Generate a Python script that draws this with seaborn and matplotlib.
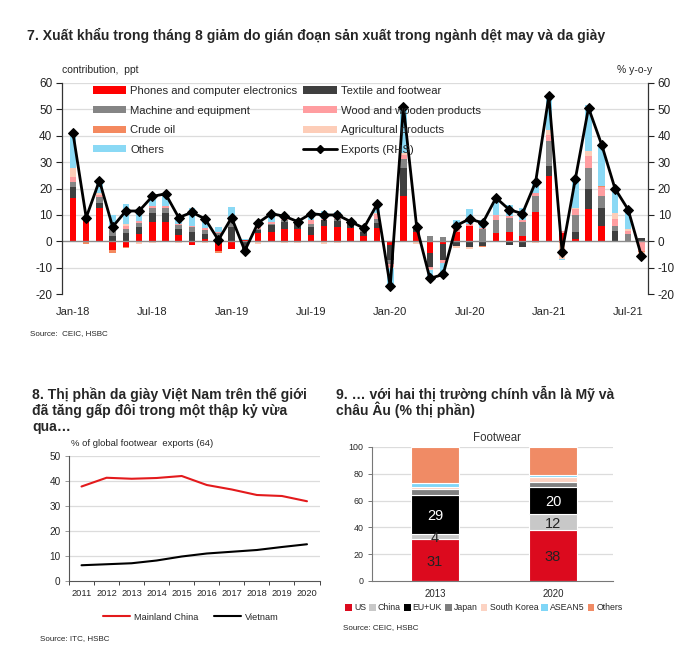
import numpy as np
import pandas as pd
import matplotlib
matplotlib.use("Agg")
import matplotlib.pyplot as plt
from matplotlib.lines import Line2D
from matplotlib.patches import Patch
import seaborn as sns

# ---------------- data: chart 7 (monthly contributions, ppt) ----------------
months = pd.date_range("2018-01-01", periods=44, freq="MS").strftime("%b-%y").tolist()
phones = [16.5, 8.8, 12.7, -3.4, -2.2, 2.7, 7.3, 7.3, 2.3, -1.2, 0.8, -3.8,
          -3.0, 0.5, 3.0, 3.5, 4.8, 4.8, 2.3, 5.8, 5.4, 5.0, 1.9, 5.0,
          -1.5, 17.2, 3.5, -4.4, -1.1, 3.7, 5.8, 0.0, 3.2, 3.4, 1.9, 11.0,
          24.7, 3.2, 0.9, 12.3, 5.7, -0.4, 0.0, 0.0]
textile = [4.0, 0.0, 1.9, 1.9, 3.0, 2.7, 3.5, 3.6, 2.3, 3.5, 2.1, 1.0,
           5.5, -3.0, 1.3, 2.6, 2.5, 1.9, 3.1, 2.2, 2.2, 1.6, 1.6, 2.0,
           -5.7, 10.6, 1.3, -5.1, -6.1, -1.9, -2.0, -1.8, 0.0, -1.2, -2.0, 0.0,
           3.8, 0.0, 2.8, 7.6, 7.0, 4.0, 0.3, 1.2]
machine = [2.0, 0.0, 2.2, 2.3, 1.8, 1.6, 2.0, 1.9, 1.5, 1.9, 1.3, 2.0,
           1.8, -0.8, 0.5, 0.6, 0.9, 0.6, 1.3, 0.0, 0.7, 0.6, 0.9, 1.6,
           -1.3, 3.2, 0.0, 1.9, 1.6, 0.0, 0.0, 4.5, 5.0, 5.3, 5.3, 6.3,
           9.3, 0.0, 6.4, 7.8, 4.3, 1.9, 2.5, 0.0]
wood = [1.7, 0.0, 0.7, 0.5, 0.9, 0.6, 0.5, 0.6, 0.4, 0.6, 0.9, 0.6,
        0.7, 0.0, 0.5, 0.6, 0.4, 0.7, 1.5, 0.6, 0.7, 0.6, 0.6, 1.7,
        -1.2, 1.7, 0.0, -0.8, -1.0, 1.7, 0.9, 0.7, 1.7, 1.0, 0.9, 0.9,
        2.6, 0.8, 2.2, 4.5, 3.5, 2.6, 1.0, -3.5]
crude = [0.0, -1.0, 0.0, -1.0, -0.4, 0.0, 0.0, 0.0, 0.0, 0.0, 0.0, -0.7,
         0.0, 0.0, 0.0, 0.0, 0.0, 0.0, 0.0, 0.0, 0.0, 0.0, 0.0, 0.0,
         0.0, 0.0, 0.0, 0.0, 0.0, 0.0, 0.0, -0.3, -0.3, -0.3, 0.0, -0.3,
         0.0, -0.5, 0.0, 0.0, 0.6, 0.0, 0.0, -0.5]
agri = [3.6, 0.0, 0.9, 0.0, 0.7, -0.8, -0.6, -0.3, -0.6, 0.0, -0.5, 0.0,
        0.0, 0.0, -0.8, 0.0, -0.6, -0.6, 0.0, -0.8, -0.5, -0.3, -0.4, 0.5,
        -0.5, 0.6, -0.9, -0.5, 0.0, -0.6, -0.7, 0.0, 0.0, 0.0, 0.0, -0.3,
        1.6, -6.0, 0.5, 2.0, 0.0, 2.1, 0.9, -1.0]
others = [13.0, 0.5, 4.1, 5.2, 7.9, 4.5, 3.8, 4.1, 2.0, 6.8, 2.9, 1.8,
          5.0, 0.3, 1.2, 2.6, 1.7, 0.3, 2.1, 2.9, 2.0, 0.4, 0.4, 2.9,
          -7.0, 17.5, 0.9, -3.5, -4.1, 2.8, 5.5, 3.0, 5.5, 4.1, 4.4, 4.8,
          13.5, -0.6, 11.1, 17.3, 14.9, 9.5, 7.6, -1.0]
exports = [41, 9, 23, 5.5, 11.5, 11.5, 17, 18, 9, 11, 8.5, 0.5,
           9, -3.5, 7, 10.5, 9.5, 7.5, 10.5, 10, 10, 7.5, 5, 14,
           -17, 51, 5.5, -14, -12.5, 6, 8.5, 7, 16.5, 12, 10.5, 22.5,
           55, -4, 23.5, 50.5, 36.5, 20, 12, -5.5]
series_names = ["Phones and computer electronics", "Textile and footwear",
                "Machine and equipment", "Wood and wooden products",
                "Crude oil", "Agricultural products", "Others"]
series_colors = ["#ff0000", "#3f3f3f", "#858585", "#ff9da0",
                 "#f4895f", "#fdcdb8", "#8ad9f5"]

# ---------------- data: chart 8 ----------------
years8 = ["2011", "2012", "2013", "2014", "2015", "2016", "2017", "2018", "2019", "2020"]
china8 = [37.8, 41.3, 40.9, 41.2, 42.0, 38.4, 36.6, 34.4, 34.0, 31.9]
vietnam8 = [6.3, 6.7, 7.1, 8.2, 9.8, 11.0, 11.7, 12.4, 13.6, 14.7]

# ---------------- data: chart 9 ----------------
years9 = ["2013", "2020"]
markets = ["US", "China", "EU+UK", "Japan", "South Korea", "ASEAN5", "Others"]
share_2013 = [31, 4, 29, 4.5, 2, 2.5, 27]
share_2020 = [38, 12, 20, 4, 3.5, 1.5, 21]
labelled = ["US", "China", "EU+UK"]
market_colors = ["#dc0a1e", "#c8c8c8", "#000000", "#7f7f7f", "#fcd3c3", "#7fd6f7", "#f08b65"]

# ---------------- figure ----------------
sns.set_theme(style="white")
plt.rcParams['font.family'] = ['Liberation Sans', 'DejaVu Sans']
plt.rcParams['axes.unicode_minus'] = False

W, H = 692, 670
fig = plt.figure(figsize=(W / 100, H / 100), dpi=100)


def axes_px(l, t, r, b):
    return fig.add_axes([l / W, 1 - b / H, (r - l) / W, (b - t) / H])


def ftext(x, y, s, **kw):
    kw.setdefault("va", "center")
    fig.text(x / W, 1 - y / H, s, **kw)


GRID = "#dcdcdc"
TITLE_FS = 10.1
NARROW = ['Liberation Sans Narrow', 'Liberation Sans', 'DejaVu Sans']

# ======================= Chart 7 =======================
ftext(27, 35, "7. Xuất khẩu trong tháng 8 giảm do gián đoạn sản xuất trong ngành dệt may và da giày",
      fontsize=TITLE_FS, fontweight="bold")
ax = axes_px(62, 82.7, 648, 294.3)
x = np.arange(len(months))
pos_b = np.zeros(len(months))
neg_b = np.zeros(len(months))
for name, vals, col in zip(series_names,
                           [phones, textile, machine, wood, crude, agri, others],
                           series_colors):
    v = np.array(vals, dtype=float)
    p = np.clip(v, 0, None)
    n = np.clip(v, None, 0)
    ax.bar(x, p, bottom=pos_b, width=0.5, color=col, linewidth=0)
    ax.bar(x, n, bottom=neg_b, width=0.5, color=col, linewidth=0)
    pos_b += p
    neg_b += n
ax.set_ylim(-20, 60)
ax.set_xlim(-0.83, 43.5)
ax.set_yticks(range(-20, 61, 10))
for yv in range(-10, 61, 10):
    if yv != 0:
        ax.axhline(yv, color=GRID, lw=0.9, zorder=0)
ax.axhline(0, color="#8c8c8c", lw=1.0, zorder=1)
ax.set_xticks(x[::6])
ax.set_xticklabels(months[::6])
ax.tick_params(axis="x", length=0, pad=9, labelsize=8)
ax.tick_params(axis="y", length=4, width=0.8, direction="out", left=True, labelsize=8.5, pad=3, colors="#222222")
for s in ["top", "right", "bottom"]:
    ax.spines[s].set_visible(False)
ax.spines["left"].set_color("#333333")
ax.spines["left"].set_linewidth(0.9)

ax2 = ax.twinx()
ax2.set_ylim(-20, 60)
ax2.set_yticks(range(-20, 61, 10))
df7 = pd.DataFrame({"x": x, "exports": exports})
sns.lineplot(data=df7, x="x", y="exports", ax=ax2, color="black", lw=2.0,
             marker="D", markersize=5.5, markeredgecolor="black", legend=False)
ax2.set_xlim(-0.83, 43.5)
ax2.set_ylabel("")
ax2.set_xlabel("")
ax.set_xlabel("")
ax2.tick_params(axis="y", length=4, width=0.8, direction="out", right=True, labelsize=8.5, pad=3, colors="#222222")
for s in ["top", "left", "bottom"]:
    ax2.spines[s].set_visible(False)
ax2.spines["right"].set_color("#333333")
ax2.spines["right"].set_linewidth(0.9)

handles = [Patch(facecolor=c, edgecolor="none") for c in series_colors]
line_h = Line2D([0], [0], color="black", lw=2, marker="D", markersize=4.5)
order_h = [handles[0], handles[2], handles[4], handles[6], handles[1], handles[3], handles[5], line_h]
order_l = [series_names[0], series_names[2], series_names[4], series_names[6],
           series_names[1], series_names[3], series_names[5], "Exports (RHS)"]
fig.legend(order_h, order_l, loc="upper left", bbox_to_anchor=(93 / W, 1 - 86 / H),
           ncol=2, frameon=False, fontsize=8.1, handlelength=2.95, handleheight=0.6,
           handletextpad=0.35, labelspacing=0.85, columnspacing=0.55, borderaxespad=0, borderpad=0)

ftext(62, 70, "contribution,  ppt", fontsize=7.5)
ftext(652, 70, "% y-o-y", fontsize=7.5, ha="right")
ftext(30, 334, "Source:  CEIC, HSBC", fontsize=5.8)

# ======================= Chart 8 =======================
ftext(32, 395, "8. Thị phần da giày Việt Nam trên thế giới", fontsize=TITLE_FS, fontweight="bold")
ftext(32, 411, "đã tăng gấp đôi trong một thập kỷ vừa", fontsize=TITLE_FS, fontweight="bold")
ftext(32, 427, "qua…", fontsize=TITLE_FS, fontweight="bold")
ftext(71, 443, "% of global footwear  exports (64)", fontsize=6.8)

bx = axes_px(69, 456, 319.5, 581)
df8 = pd.DataFrame({"year": years8 * 2,
                    "share": china8 + vietnam8,
                    "series": ["Mainland China"] * 10 + ["Vietnam"] * 10})
df8["pos"] = list(range(10)) * 2
sns.lineplot(data=df8, x="pos", y="share", hue="series", ax=bx,
             palette={"Mainland China": "#e31a1c", "Vietnam": "#000000"}, lw=1.5, legend=False)
bx.set_xlim(-0.5, 9.5)
bx.set_ylim(0, 50)
bx.set_yticks(range(0, 51, 10))
bx.set_xticks(range(10))
bx.set_xticklabels(years8)
bx.set_xticks(np.arange(-0.5, 9.6, 1), minor=True)
for yv in range(10, 51, 10):
    bx.axhline(yv, color=GRID, lw=0.9, zorder=0)
bx.tick_params(axis="x", which="major", length=0, pad=6, labelsize=6.7)
bx.tick_params(axis="x", which="minor", length=3, width=0.7, bottom=True, direction="out", color="#444444")
bx.tick_params(axis="y", length=3, width=0.7, left=True, direction="out", labelsize=7.2, pad=3, color="#999999")
bx.set_xlabel("")
bx.set_ylabel("")
for s in ["top", "right"]:
    bx.spines[s].set_visible(False)
bx.spines["left"].set_color("#555555")
bx.spines["bottom"].set_color("#555555")
bx.spines["left"].set_linewidth(0.8)
bx.spines["bottom"].set_linewidth(0.8)
l8 = [Line2D([0], [0], color="#e31a1c", lw=1.5), Line2D([0], [0], color="black", lw=1.5)]
fig.legend(l8, ["Mainland China", "Vietnam"], loc="center", bbox_to_anchor=(191 / W, 1 - 617 / H),
           ncol=2, frameon=False, fontsize=6.7, handlelength=2.9, handletextpad=0.5,
           columnspacing=1.6, borderaxespad=0, borderpad=0)
ftext(40, 639, "Source: ITC, HSBC", fontsize=5.8)

# ======================= Chart 9 =======================
ftext(336, 394, "9. … với hai thị trường chính vẫn là Mỹ và", fontsize=TITLE_FS, fontweight="bold")
ftext(336, 410, "châu Âu (% thị phần)", fontsize=TITLE_FS, fontweight="bold")
ftext(497, 438, "Footwear", fontsize=8.3, ha="center", color="#333333")

cx = axes_px(372, 447, 613, 581)
for yv in range(20, 101, 20):
    cx.axhline(yv, color=GRID, lw=0.9, zorder=0)
bottoms = np.zeros(2)
for i, m in enumerate(markets):
    vals = np.array([share_2013[i], share_2020[i]], dtype=float)
    cx.bar([0, 1], vals, bottom=bottoms, width=0.40, color=market_colors[i],
           edgecolor="white", linewidth=0.8, zorder=2)
    if m in labelled:
        for j in range(2):
            cx.text(j, bottoms[j] + vals[j] / 2, f"{vals[j]:.0f}", ha="center", va="center_baseline",
                    fontsize=10.5, color="white" if m == "EU+UK" else "#222222",
                    family=NARROW, zorder=3)
    bottoms += vals
cx.set_xlim(-0.534, 1.508)
cx.set_ylim(0, 100)
cx.set_yticks(range(0, 101, 20))
cx.set_xticks([0, 1])
cx.set_xticklabels(years9)
cx.tick_params(axis="x", length=0, pad=6, labelsize=6.9)
cx.tick_params(axis="y", length=3, width=0.7, left=True, direction="out", labelsize=6.4, pad=3, color="#777777")
for s in ["top", "right"]:
    cx.spines[s].set_visible(False)
cx.spines["left"].set_color("#777777")
cx.spines["bottom"].set_color("#777777")
cx.spines["left"].set_linewidth(0.8)
cx.spines["bottom"].set_linewidth(0.8)
h9 = [Patch(facecolor=c, edgecolor="none") for c in market_colors]
fig.legend(h9, markets, loc="center", bbox_to_anchor=(484 / W, 1 - 608 / H),
           ncol=7, frameon=False, fontsize=6.3, handlelength=0.75, handleheight=0.75,
           handletextpad=0.25, columnspacing=0.35, borderaxespad=0, borderpad=0)
ftext(343, 628, "Source: CEIC, HSBC", fontsize=5.8)

fig.savefig("out.png", dpi=100)
